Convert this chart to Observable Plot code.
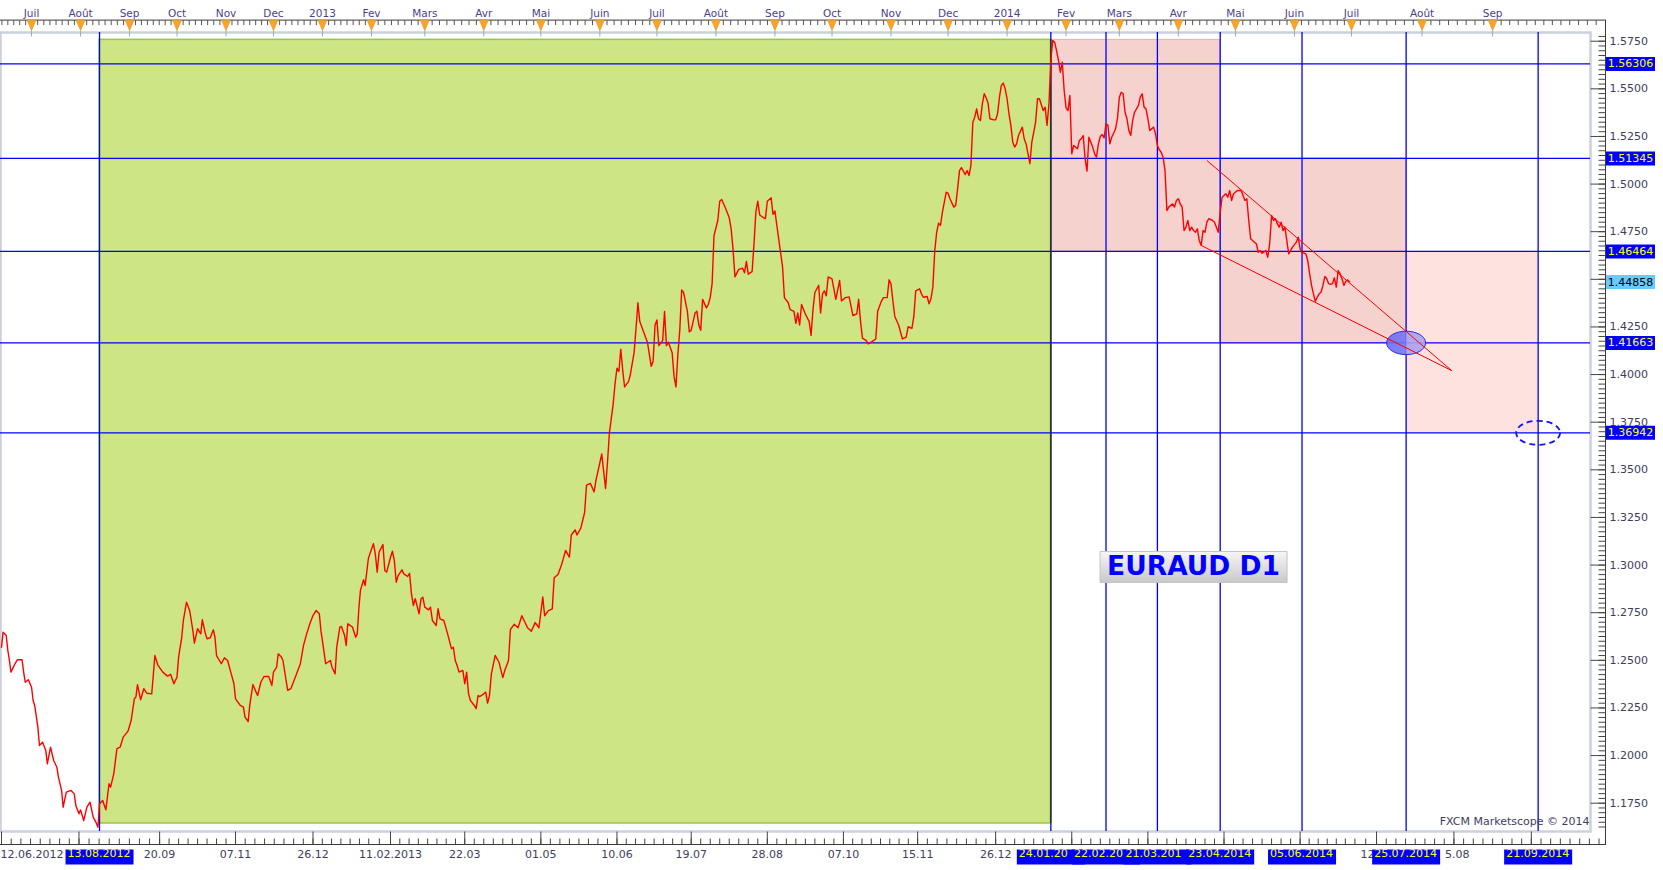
<!DOCTYPE html>
<html><head><meta charset="utf-8">
<script src="https://cdn.jsdelivr.net/npm/d3@7"></script>
<script src="https://cdn.jsdelivr.net/npm/@observablehq/plot@0.6"></script>
<style>html,body{margin:0;padding:0;background:#fff;overflow:hidden}</style>
</head><body><div id="chart"></div>
<script>
// ---------- data ----------
const startDate = "2012-06-12";            // day 0 of the daily series
const dayOffsets = [
0,1,3,4,5,6,8,10,13,14,
15,17,19,20,21,23,24,26,28,29,
31,33,35,36,38,39,41,44,46,47,
49,50,52,54,56,58,60,61,62,64,
66,68,69,71,73,75,77,80,82,84,
85,86,88,90,92,95,96,97,99,102,
105,107,109,111,112,114,115,117,119,121,
122,124,126,127,129,130,132,134,135,136,
139,141,143,145,147,148,151,153,154,156,
157,159,161,162,164,166,169,171,172,174,
175,177,178,180,181,183,185,187,189,191,
193,195,197,199,201,202,204,205,208,209,
211,212,214,215,217,218,219,222,224,225,
226,227,229,230,232,233,235,236,237,238,
240,241,242,244,245,246,247,248,250,251,
253,254,255,256,257,259,260,261,262,264,
265,266,268,269,270,272,274,276,277,278,
279,280,282,283,284,285,286,288,289,290,
291,293,294,295,296,297,299,301,303,304,
306,307,309,311,313,316,318,320,322,324,
325,327,329,330,332,334,336,338,339,341,
342,344,346,347,349,351,352,353,355,356,
357,358,359,361,362,363,364,365,366,367,
369,370,372,373,374,375,377,379,381,382,
383,384,385,387,388,389,390,392,393,394,
395,396,397,398,400,401,402,404,405,406,
407,408,410,411,412,413,414,416,417,418,
420,422,423,424,425,427,429,430,431,432,
434,435,436,437,438,440,441,442,444,445,
446,447,448,450,451,453,454,456,457,458,
459,460,462,464,465,466,467,469,470,471,
472,473,474,476,478,480,481,483,485,486,
487,489,490,491,492,494,495,497,499,500,
502,503,505,506,507,508,509,511,513,515,
516,518,519,520,522,523,524,526,527,528,
529,530,531,532,533,534,536,537,538,540,
541,542,543,544,546,547,548,549,550,551,
552,553,554,555,556,557,558,559,561,562,
563,564,565,566,567,568,569,570,571,572,
573,574,576,577,578,579,580,581,582,583,
584,585,587,588,589,590,591,592,593,594,
595,596,597,598,599,600,601,602,603,605,
606,607,608,609,610,611,613,614,615,616,
617,618,619,620,621,622,623,624,625,626,
627,628,629,630,631,632,633,634,635,637,
638,639,640,641,642,643,645,646,647,648,
649,650,651,652,653,655,656,657,658,659,
660,661,662,663,664,665,666,667,668,669,
670,671,672,673,674,676,677,678,679,680,
681,682,683,684,685,686,687,689,691,692,
693,694,695,696,698,699,700,701,702,704,
705,706,707,708,709,710,711,712,713,714,
715,716,717,718,720,721,722,723,725,726,
727,728,729,730,731,732,733,734,735,736,
737,738,739,740,741,742,743,744,745,746,
747,748
];
const closes = [
1.2569,1.2648,1.2630,1.2552,1.2499,1.2438,1.2473,1.2503,1.2503,1.2438,
1.2385,1.2398,1.2359,1.2289,1.2263,1.2149,1.2053,1.2070,1.2027,1.1957,
1.2044,1.1974,1.1939,1.1887,1.1817,1.1729,1.1808,1.1817,1.1799,1.1738,
1.1694,1.1715,1.1659,1.1729,1.1755,1.1677,1.1645,1.1624,1.1747,1.1764,
1.1715,1.1852,1.1834,1.1904,1.2036,1.2044,1.2097,1.2128,1.2184,1.2298,
1.2307,1.2372,1.2293,1.2351,1.2327,1.2324,1.2420,1.2525,1.2473,1.2438,
1.2417,1.2426,1.2377,1.2412,1.2517,1.2621,1.2709,1.2805,1.2762,1.2657,
1.2590,1.2666,1.2639,1.2713,1.2639,1.2613,1.2618,1.2660,1.2621,1.2525,
1.2482,1.2513,1.2499,1.2438,1.2377,1.2298,1.2263,1.2254,1.2202,1.2179,
1.2263,1.2373,1.2333,1.2315,1.2385,1.2415,1.2415,1.2368,1.2438,1.2464,
1.2534,1.2517,1.2499,1.2394,1.2342,1.2351,1.2394,1.2438,1.2482,1.2578,
1.2639,1.2692,1.2735,1.2762,1.2744,1.2657,1.2543,1.2482,1.2499,1.2464,
1.2429,1.2569,1.2674,1.2678,1.2630,1.2578,1.2692,1.2674,1.2621,1.2639,
1.2771,1.2867,1.2923,1.2893,1.3033,1.3059,1.3112,1.3059,1.2963,1.3068,
1.3108,1.2972,1.2963,1.3041,1.3073,1.3024,1.2910,1.2945,1.2975,1.2954,
1.2940,1.2957,1.2849,1.2788,1.2823,1.2744,1.2823,1.2831,1.2779,1.2765,
1.2779,1.2709,1.2683,1.2771,1.2718,1.2709,1.2639,1.2561,1.2569,1.2499,
1.2473,1.2438,1.2447,1.2377,1.2438,1.2324,1.2289,1.2263,1.2246,1.2315,
1.2310,1.2324,1.2333,1.2275,1.2315,1.2429,1.2526,1.2490,1.2409,1.2445,
1.2499,1.2662,1.2689,1.2671,1.2734,1.2671,1.2653,1.2698,1.2671,1.2833,
1.2734,1.2761,1.2770,1.2933,1.2951,1.3005,1.3077,1.3041,1.3158,1.3185,
1.3158,1.3194,1.3276,1.3420,1.3429,1.3384,1.3447,1.3492,1.3583,1.3492,
1.3402,1.3537,1.3691,1.3845,1.3953,1.4034,1.4016,1.4133,1.4025,1.3935,
1.3962,1.3998,1.4115,1.4242,1.4377,1.4278,1.4224,1.4170,1.4043,1.4070,
1.4260,1.4287,1.4152,1.4178,1.4332,1.4152,1.4170,1.4115,1.3989,1.3935,
1.4106,1.4232,1.4444,1.4431,1.4332,1.4224,1.4232,1.4323,1.4332,1.4260,
1.4232,1.4395,1.4350,1.4368,1.4404,1.4477,1.4729,1.4810,1.4910,1.4919,
1.4874,1.4823,1.4765,1.4657,1.4513,1.4552,1.4558,1.4534,1.4594,1.4527,
1.4540,1.4684,1.4856,1.4910,1.4838,1.4823,1.4819,1.4910,1.4928,1.4841,
1.4859,1.4784,1.4711,1.4567,1.4404,1.4377,1.4341,1.4332,1.4269,1.4323,
1.4260,1.4368,1.4318,1.4278,1.4206,1.4341,1.4431,1.4468,1.4323,1.4422,
1.4440,1.4413,1.4513,1.4503,1.4395,1.4494,1.4386,1.4404,1.4408,1.4359,
1.4310,1.4318,1.4395,1.4278,1.4191,1.4178,1.4161,1.4173,1.4187,1.4332,
1.4386,1.4404,1.4404,1.4498,1.4477,1.4386,1.4305,1.4260,1.4187,1.4197,
1.4251,1.4242,1.4305,1.4440,1.4450,1.4424,1.4406,1.4410,1.4372,1.4398,
1.4459,1.4651,1.4747,1.4795,1.4783,1.4852,1.4957,1.4952,1.4923,1.4879,
1.4888,1.4975,1.5071,1.5086,1.5050,1.5071,1.5045,1.5098,1.5325,1.5351,
1.5395,1.5343,1.5334,1.5421,1.5474,1.5453,1.5425,1.5343,1.5337,1.5337,
1.5369,1.5456,1.5518,1.5530,1.5500,1.5448,1.5369,1.5308,1.5220,1.5194,
1.5211,1.5255,1.5299,1.5238,1.5211,1.5159,1.5107,1.5220,1.5272,1.5325,
1.5448,1.5448,1.5386,1.5404,1.5308,1.5421,1.5649,1.5754,1.5745,1.5701,
1.5649,1.5587,1.5640,1.5491,1.5400,1.5386,1.5465,1.5159,1.5203,1.5185,
1.5229,1.5238,1.5255,1.5133,1.5068,1.5246,1.5194,1.5159,1.5141,1.5211,
1.5250,1.5260,1.5243,1.5316,1.5308,1.5211,1.5246,1.5267,1.5290,1.5343,
1.5456,1.5482,1.5474,1.5377,1.5343,1.5281,1.5255,1.5334,1.5377,1.5412,
1.5456,1.5474,1.5404,1.5395,1.5343,1.5281,1.5299,1.5264,1.5203,1.5180,
1.5167,1.5141,1.5071,1.4861,1.4879,1.4896,1.4879,1.4914,1.4923,1.4896,
1.4879,1.4756,1.4774,1.4809,1.4756,1.4774,1.4756,1.4747,1.4765,1.4704,
1.4678,1.4756,1.4747,1.4800,1.4818,1.4809,1.4800,1.4774,1.4747,1.4852,
1.4931,1.4940,1.4949,1.4931,1.4966,1.4914,1.4949,1.4966,1.4966,1.4940,
1.4914,1.4923,1.4809,1.4713,1.4695,1.4687,1.4642,1.4651,1.4637,1.4651,
1.4616,1.4687,1.4835,1.4809,1.4818,1.4792,1.4774,1.4800,1.4756,1.4774,
1.4704,1.4634,1.4651,1.4669,1.4695,1.4721,1.4660,1.4642,1.4634,1.4599,
1.4529,1.4468,1.4424,1.4385,1.4406,1.4424,1.4432,1.4468,1.4515,1.4503,
1.4477,1.4473,1.4477,1.4508,1.4459,1.4546,1.4529,1.4503,1.4468,1.4490,
1.4497,1.44858
];

const monthDates  = ["2012-07-01","2012-08-01","2012-09-01","2012-10-01","2012-11-01","2012-12-01","2013-01-01","2013-02-01","2013-03-01","2013-04-01","2013-05-01","2013-06-01","2013-07-01","2013-08-01","2013-09-01","2013-10-01","2013-11-01","2013-12-01","2014-01-01","2014-02-01","2014-03-01","2014-04-01","2014-05-01","2014-06-01","2014-07-01","2014-08-01","2014-09-01"];
const monthLabels = ["Juil","Août","Sep","Oct","Nov","Dec","2013","Fev","Mars","Avr","Mai","Juin","Juil","Août","Sep","Oct","Nov","Dec","2014","Fev","Mars","Avr","Mai","Juin","Juil","Août","Sep"];

// bottom ruler: major tick dates; label text as it is visible (blank = hidden under a date box)
const dateTickDates  = ["2012-06-12","2012-07-31","2012-09-20","2012-11-07","2012-12-26","2013-02-11","2013-03-22","2013-05-01","2013-06-10","2013-07-19","2013-08-28","2013-10-07","2013-11-15","2013-12-26","2014-02-04","2014-03-16","2014-04-25","2014-06-04","2014-07-12","2014-08-15","2014-09-18"];
const dateTickLabels = ["12.06.2012","","20.09","07.11","26.12","11.02.2013","22.03","01.05","10.06","19.07","28.08","07.10","15.11","26.12","","","","","12","5.08",""];

const priceTickLabels = ["1.1750","1.2000","1.2250","1.2500","1.2750","1.3000","1.3250","1.3500","1.3750","1.4000","1.4250","1.4500","1.4750","1.5000","1.5250","1.5500","1.5750"];

const levels = [1.56306, 1.51345, 1.46464, 1.41663, 1.36942];
const lastPrice = 1.44858;

const markerDates  = ["2012-08-13","2014-01-24","2014-02-22","2014-03-21","2014-04-23","2014-06-05","2014-07-25","2014-09-21"];
// visible text of each date box (the later box covers the end of the earlier one)
const markerLabels = ["13.08.2012","24.01.20","22.02.20","21.03.201","23.04.2014","05.06.2014","25.07.2014","21.09.2014"];

const zoneFrom  = ["2012-08-13","2014-01-24","2014-04-23","2014-07-25"];
const zoneTo    = ["2014-01-24","2014-04-23","2014-07-25","2014-09-21"];
const zoneLow   = [1.16435, 1.46464, 1.41663, 1.36942];
const zoneHigh  = [1.5757, 1.5757, 1.51345, 1.46464];
const zoneKind  = ["up", "down", "down", "target"];

const wedgeFrom      = ["2014-04-16", "2014-04-13"];
const wedgeFromPrice = [1.5124, 1.4678];
const wedgeTo        = ["2014-08-14", "2014-08-14"];
const wedgeToPrice   = [1.4021, 1.4021];

const targetDates  = ["2014-07-25", "2014-09-21"];
const targetPrices = [1.41663, 1.36942];

const titleText = "EURAUD D1", titleDate = "2014-04-09", titlePrice = 1.2990;
const credit = "FXCM Marketscope © 2014";

// ---------- helpers ----------
const D = s => new Date(s + "T00:00:00Z");
const start = D(startDate);
const n = Math.min(dayOffsets.length, closes.length);
const series = d3.range(n).map(i => ({date: d3.utcDay.offset(start, dayOffsets[i]), close: closes[i]}));
const months = monthDates.map((d, i) => ({date: D(d), label: monthLabels[i]}));
const dateTicks = dateTickDates.map((d, i) => ({date: D(d), label: dateTickLabels[i]}));
const markers = markerDates.map((d, i) => ({date: D(d), label: markerLabels[i]}));
const zones = zoneFrom.map((d, i) => ({x1: D(d), x2: D(zoneTo[i]), y1: zoneLow[i], y2: zoneHigh[i], kind: zoneKind[i]}));
const wedge = wedgeFrom.map((d, i) => ({x1: D(d), y1: wedgeFromPrice[i], x2: D(wedgeTo[i]), y2: wedgeToPrice[i]}));
const targets = targetDates.map((d, i) => ({date: D(d), price: targetPrices[i]}));
const yTicks = priceTickLabels.map(s => ({v: +s, label: s}));
// the 1.4500 label sits under the current-price box
const yTickText = yTicks.filter(t => Math.abs(t.v - lastPrice) > 0.005);
const yMinor = d3.range(0, 170).map(i => 1.1625 + i * 0.0025).filter(v => v > 1.1605 && v < 1.5795);

const subdivide = (dates, k) => {
  const out = [];
  for (let i = 0; i < dates.length - 1; i++) {
    const a = +dates[i], b = +dates[i + 1];
    for (let j = 0; j < k; j++) out.push(new Date(a + (b - a) * j / k));
  }
  return out;
};
const lastTick = D("2014-10-20");
const topMinor = subdivide([D("2012-06-01"), ...months.map(d => d.date), D("2014-10-01"), D("2014-11-01")], 8).filter(d => d <= lastTick);
const botMinor = subdivide([...dateTicks.map(d => d.date), D("2014-10-22")], 8).filter(d => d <= lastTick);

const vTick = (y0, y1) => ({draw(c) { c.moveTo(0, y0); c.lineTo(0, y1); }});
const hTick = (x0, x1) => ({draw(c) { c.moveTo(x0, 0); c.lineTo(x1, 0); }});
const box = (w, h) => ({draw(c) { c.rect(-w / 2, -h / 2, w, h); }});
const triDown = (w, h) => ({draw(c) { c.moveTo(-w / 2, 0); c.lineTo(w / 2, 0); c.lineTo(0, h); c.closePath(); }});
const ellipse = (rx, ry) => ({draw(c) {
  const k = 0.5523;
  c.moveTo(rx, 0);
  c.bezierCurveTo(rx, ry * k, rx * k, ry, 0, ry);
  c.bezierCurveTo(-rx * k, ry, -rx, ry * k, -rx, 0);
  c.bezierCurveTo(-rx, -ry * k, -rx * k, -ry, 0, -ry);
  c.bezierCurveTo(rx * k, -ry, rx, -ry * k, rx, 0);
  c.closePath();
}});

const axisInk = "#3d3d5c";
const font = "DejaVu Sans";
const fs = 11;

// bottom labels: first one starts at the left edge; partly covered ones keep their visible part in place
const labelMark = (t, i) => {
  if (!t.label) return null;
  let anchor = "middle", dx = 0;
  if (i === 0) { anchor = "start"; dx = -1; }
  else if (t.label === "12") { anchor = "start"; dx = -16; }
  else if (t.label === "5.08") { anchor = "end"; dx = 15.5; }
  return Plot.text([t], {x: "date", text: "label", frameAnchor: "bottom", dy: 26, dx, textAnchor: anchor, fill: axisInk, fontSize: fs, fontFamily: font});
};

const markerMarks = markers.flatMap(m => [
  Plot.dot([m], {x: "date", frameAnchor: "bottom", dy: 25.5, symbol: box(68, 15), fill: "#0000ff", stroke: "none"}),
  Plot.text([m], {x: "date", text: "label", frameAnchor: "bottom", dy: 25.5, dx: -32, textAnchor: "start", fill: "#ffff00", fontSize: fs, fontFamily: font})
]);

const upZone = zones.filter(z => z.kind === "up");

const chart = Plot.plot({
  width: 1663,
  height: 870,
  marginLeft: 0,
  marginRight: 73,
  marginTop: 32,
  marginBottom: 39,
  style: {fontFamily: font, background: "#ffffff", overflow: "visible"},
  x: {type: "utc", domain: [D("2012-06-12"), D("2013-02-01"), D("2014-07-01"), D("2014-10-14")], range: [1, 371, 1351, 1590], axis: null},
  y: {domain: [1.16014, 1.57957], axis: null},
  marks: [
    // zones
    Plot.rect(upZone, {x1: "x1", x2: "x2", y1: "y1", y2: "y2", fill: "#cde584", stroke: "#9cc63b", strokeWidth: 1.5}),
    Plot.rect(zones.filter(z => z.kind === "target"), {x1: "x1", x2: "x2", y1: "y1", y2: "y2", fill: "#fde2df"}),
    Plot.rect(zones.filter(z => z.kind === "down"), {x1: "x1", x2: "x2", y1: "y1", y2: "y2", fill: "#f5d2ce", stroke: "#eab0aa", strokeWidth: 1}),
    // plot border
    Plot.frame({stroke: "#cbd1dc", strokeWidth: 2.5}),
    // blue levels and date lines
    Plot.ruleY(levels, {stroke: "#0000ff", strokeWidth: 1.3}),
    Plot.ruleX(markers, {x: "date", stroke: "#0000ff", strokeWidth: 1.3}),
    // dark closing edge of the green zone
    Plot.ruleX(upZone, {x: "x2", y1: "y1", y2: "y2", stroke: "#2f3a12", strokeWidth: 1.4}),
    // price
    Plot.line(series, {x: "date", y: "close", stroke: "#ff0000", strokeWidth: 1.4}),
    // target ellipses
    Plot.dot(targets.slice(0, 1), {x: "date", y: "price", symbol: ellipse(19.5, 11.7), fill: "url(#ellGrad)", fillOpacity: 0.9, stroke: "#2b2be6", strokeWidth: 1}),
    Plot.dot(targets.slice(1), {x: "date", y: "price", symbol: ellipse(22, 12), fill: "none", stroke: "#1414f0", strokeWidth: 1.8, strokeDasharray: "6,4"}),
    // wedge
    Plot.link(wedge, {x1: "x1", y1: "y1", x2: "x2", y2: "y2", stroke: "#ff0000", strokeWidth: 1}),
    // title box
    Plot.dot([0], {x: () => D(titleDate), y: () => titlePrice, symbol: box(187, 31), fill: "url(#titleGrad)", stroke: "#c4c4c4", strokeWidth: 1}),
    Plot.text([titleText], {x: () => D(titleDate), y: () => titlePrice, text: d => d, textAnchor: "middle", fill: "#0000ff", fontSize: 26.5, fontWeight: "bold", fontFamily: font}),
    // credit
    Plot.text([credit], {frameAnchor: "bottom-right", text: d => d, dx: -1, dy: -7, textAnchor: "end", fill: axisInk, fontSize: fs, fontFamily: font}),
    // outer ruler box
    Plot.frame({stroke: "#3a3a3a", strokeWidth: 1, insetTop: -12.4, insetRight: -15, insetBottom: -13, insetLeft: -3}),
    // top ruler
    Plot.dot(topMinor, {x: d => d, frameAnchor: "top", dy: -12.4, symbol: vTick(0, 5), fill: "none", stroke: "#555", strokeWidth: 1}),
    Plot.dot(months, {x: "date", frameAnchor: "top", dy: 0, symbol: vTick(-2, 4), fill: "none", stroke: "#a3a8b6", strokeWidth: 1}),
    Plot.dot(months, {x: "date", frameAnchor: "top", dy: -12.4, symbol: triDown(9, 10.5), fill: "#f6a52a", stroke: "#e58e12", strokeWidth: 0.6}),
    Plot.text(months, {x: "date", text: "label", frameAnchor: "top", dy: -22.5, textAnchor: "middle", fill: "#4a3f8a", fontSize: 10.5, fontFamily: font}),
    // bottom ruler
    Plot.dot(botMinor, {x: d => d, frameAnchor: "bottom", dy: 13, symbol: vTick(-6, 0), fill: "none", stroke: "#444", strokeWidth: 1}),
    Plot.dot(dateTicks, {x: "date", frameAnchor: "bottom", dy: 13, symbol: vTick(-13, 0), fill: "none", stroke: "#444", strokeWidth: 1}),
    ...dateTicks.map(labelMark).filter(Boolean),
    ...markerMarks,
    // right price axis
    Plot.dot(yMinor, {y: d => d, frameAnchor: "right", symbol: hTick(8, 15), fill: "none", stroke: "#444", strokeWidth: 1}),
    Plot.dot(yTicks, {y: "v", frameAnchor: "right", symbol: hTick(0, 15), fill: "none", stroke: "#444", strokeWidth: 1}),
    Plot.text(yTickText, {y: "v", text: "label", frameAnchor: "right", dx: 19, textAnchor: "start", fill: axisInk, fontSize: fs, fontFamily: font}),
    Plot.dot(levels, {y: d => d, frameAnchor: "right", dx: 40, symbol: box(49, 14), fill: "#0000ff", stroke: "none"}),
    Plot.text(levels, {y: d => d, text: d => d.toFixed(5), frameAnchor: "right", dx: 40, textAnchor: "middle", fill: "#ffff00", fontSize: fs, fontFamily: font}),
    Plot.dot([lastPrice], {y: d => d, frameAnchor: "right", dx: 40, symbol: box(49, 14), fill: "#66ccff", stroke: "none"}),
    Plot.text([lastPrice], {y: d => d, text: d => d.toFixed(5), frameAnchor: "right", dx: 40, textAnchor: "middle", fill: "#000000", fontSize: fs, fontFamily: font})
  ]
});

const ns = "http://www.w3.org/2000/svg";
const defs = document.createElementNS(ns, "defs");
defs.innerHTML = `
<linearGradient id="ellGrad" x1="0" x2="1" y1="0" y2="0">
  <stop offset="0" stop-color="#6c6cf5"/><stop offset="0.5" stop-color="#7676f6"/>
  <stop offset="0.5" stop-color="#a79ef0"/><stop offset="1" stop-color="#b0a6f0"/>
</linearGradient>
<linearGradient id="titleGrad" x1="0" x2="0" y1="0" y2="1">
  <stop offset="0" stop-color="#f6f6f6"/><stop offset="0.45" stop-color="#e2e2e2"/><stop offset="1" stop-color="#c8c8c8"/>
</linearGradient>`;
chart.insertBefore(defs, chart.firstChild);
document.getElementById("chart").appendChild(chart);
</script>
</body></html>
